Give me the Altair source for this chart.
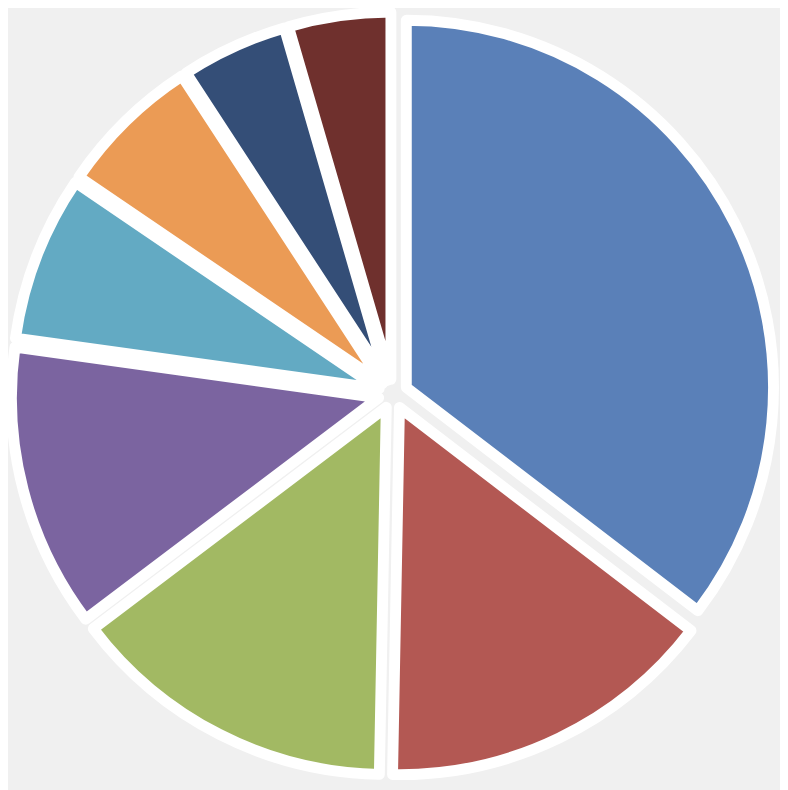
import altair as alt
import pandas as pd

categories = ["A", "B", "C", "D", "E", "F", "G", "H"]
values = [35.4, 14.9, 14.4, 12.5, 7.3, 6.3, 4.7, 4.5]
colors = ["#5a80b8", "#b35853", "#a2b963", "#7b64a0", "#63aac3", "#eb9b55", "#344e77", "#6f302d"]
order = list(range(len(categories)))

df = pd.DataFrame({"cat": categories, "value": values, "order": order})

CX, CY = 389, 386
EXPLODE = 15
R = 371

chart = (
    alt.Chart(df)
    .transform_joinaggregate(total="sum(value)")
    .transform_window(cum="sum(value)", sort=[alt.SortField("order")], frame=[None, 0])
    .transform_calculate(
        t0="2*PI*(datum.cum - datum.value)/datum.total",
        t1="2*PI*datum.cum/datum.total",
    )
    .transform_calculate(mid="(datum.t0 + datum.t1)/2")
    .transform_calculate(
        cx=f"{CX} + {EXPLODE}*sin(datum.mid)",
        cy=f"{CY} - {EXPLODE}*cos(datum.mid)",
    )
    .mark_arc(outerRadius=R, stroke="white", strokeWidth=11, strokeJoin="round")
    .encode(
        theta=alt.Theta("t0:Q", scale=None),
        theta2="t1:Q",
        x=alt.X("cx:Q", scale=None, axis=None),
        y=alt.Y("cy:Q", scale=None, axis=None),
        color=alt.Color("cat:N", scale=alt.Scale(domain=categories, range=colors), legend=None),
    )
    .properties(width=780, height=782, padding=0, background="#f0f0f0", autosize="none")
    .configure_view(stroke=None)
)

chart.save("out.html", embed_options={"renderer": "svg", "actions": False})
